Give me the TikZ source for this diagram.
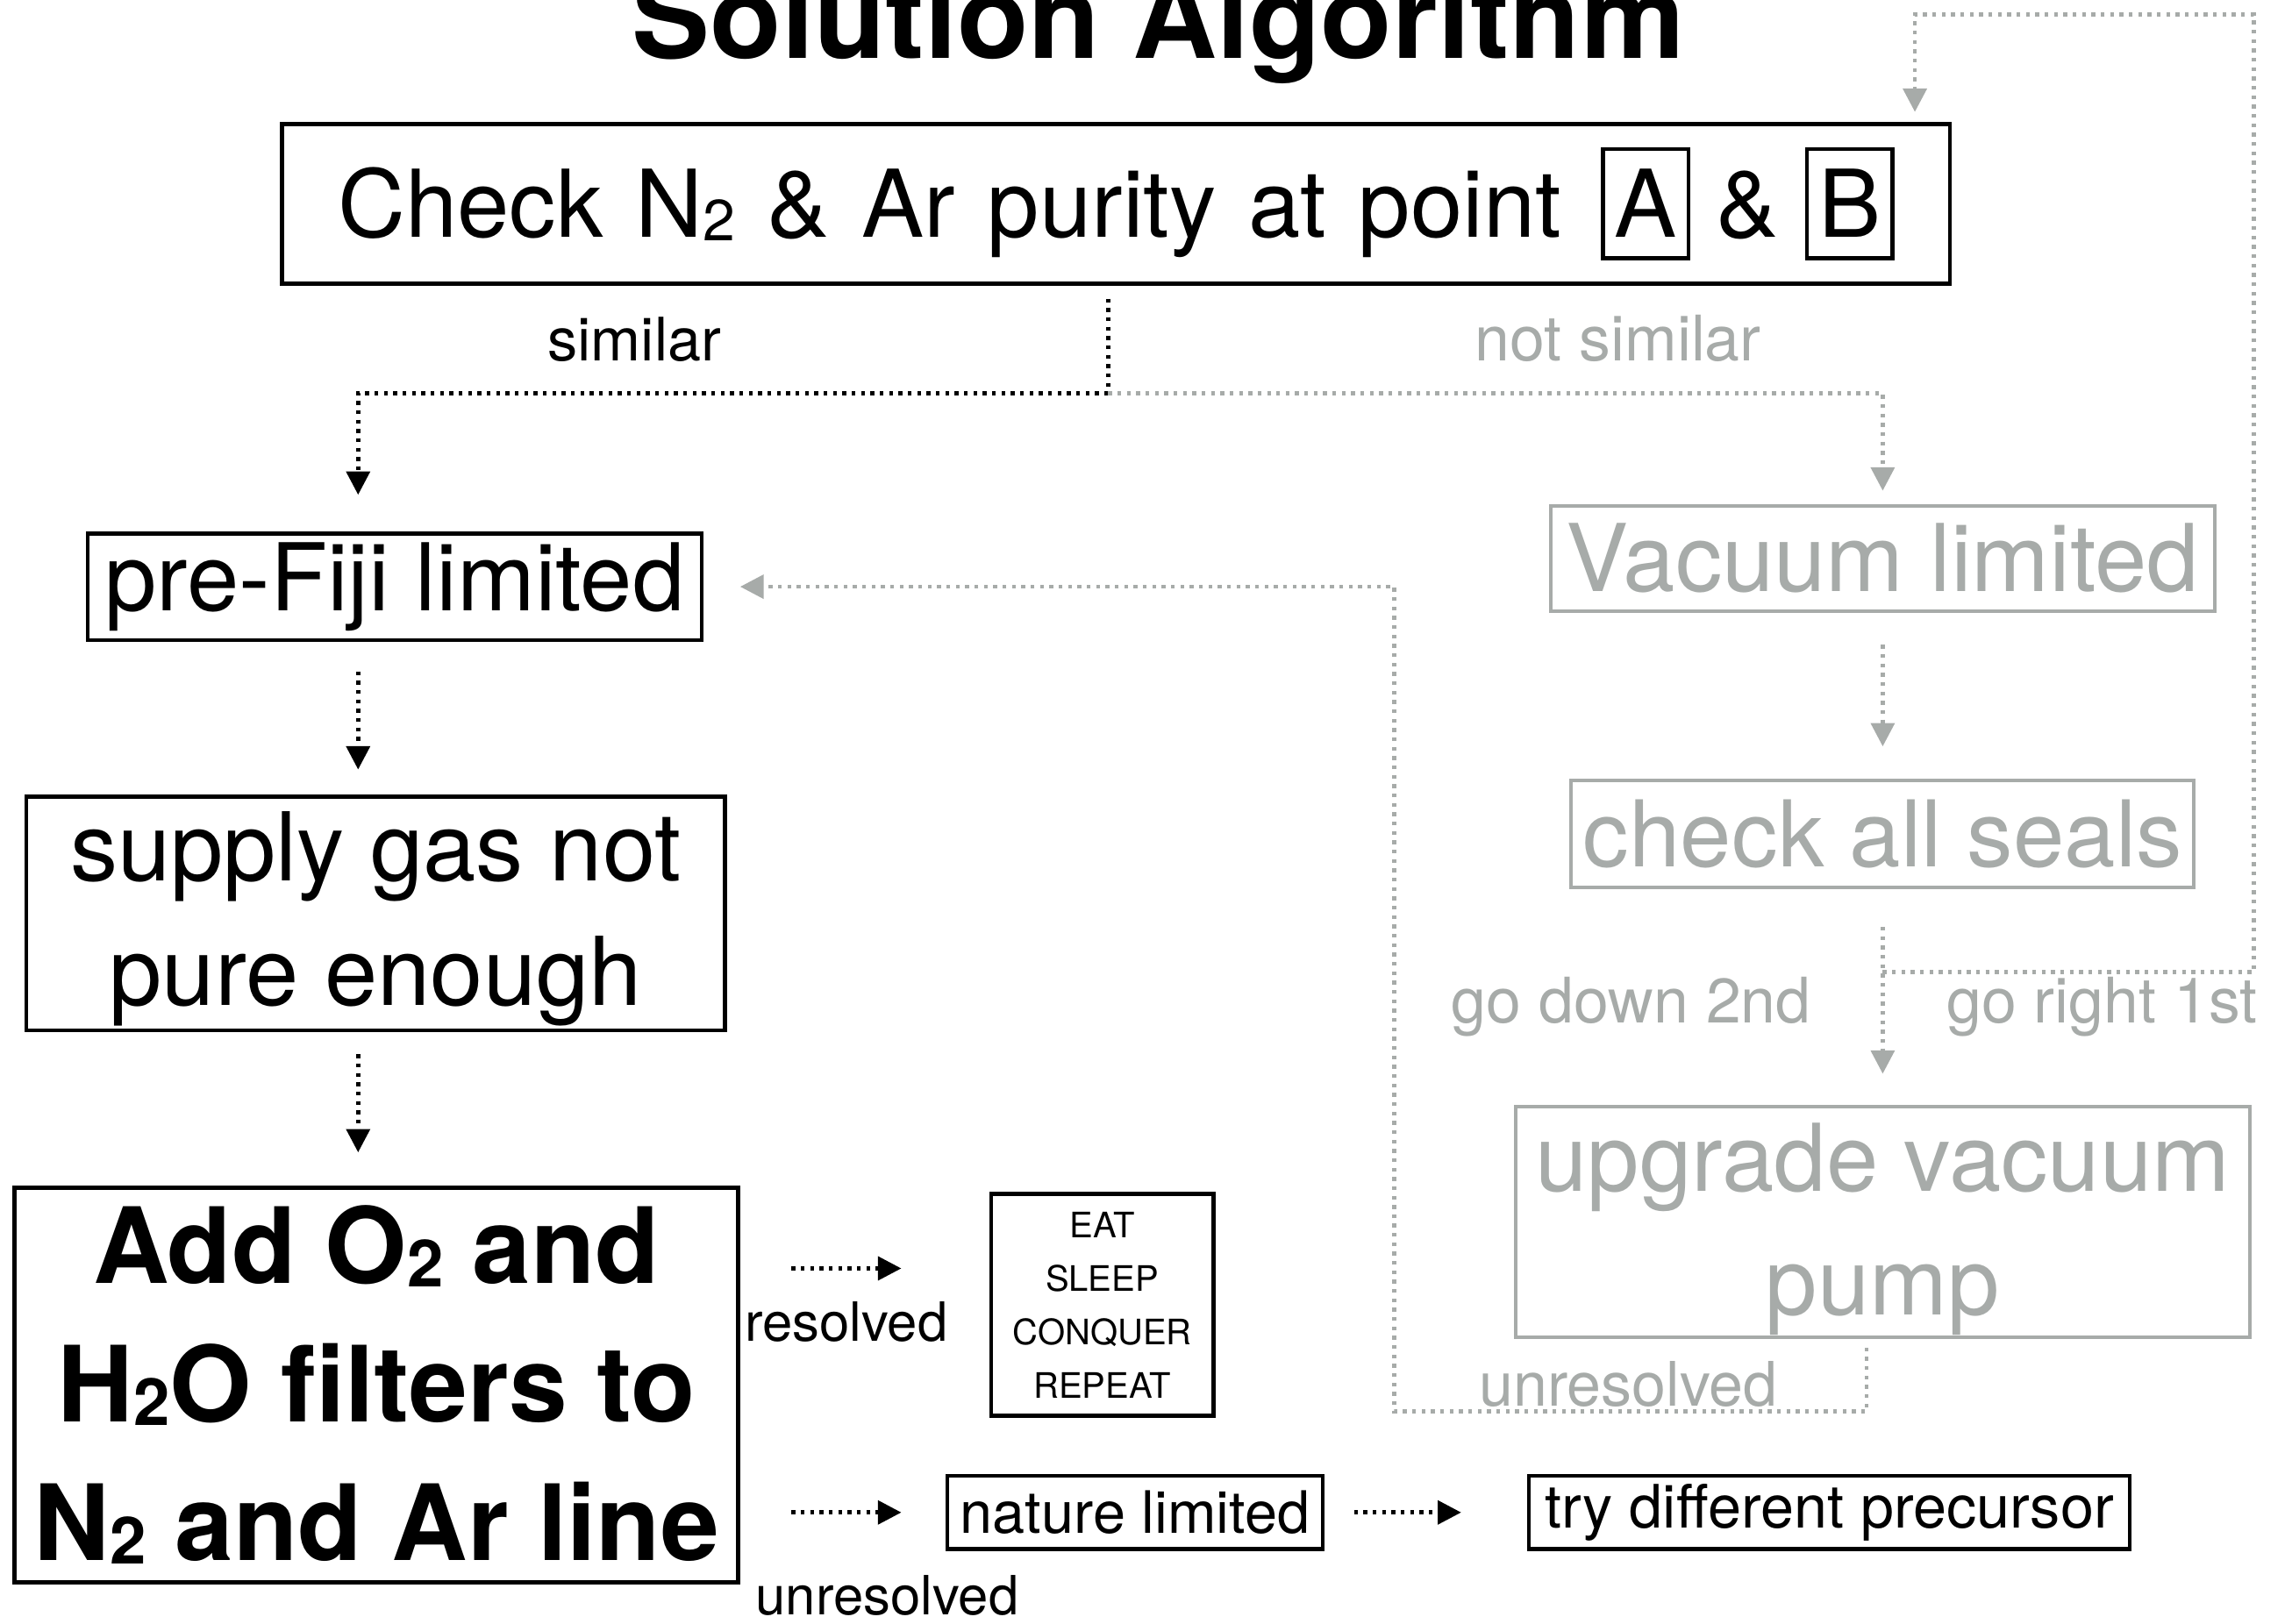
\documentclass[tikz,border=0pt]{standalone}
\usepackage{fontspec}
\usepackage{graphicx}
\setmainfont{TeX Gyre Heros}
\usetikzlibrary{arrows.meta}

\definecolor{fadegray}{RGB}{167,171,169}

\newcommand{\fsz}[2]{\fontsize{#1}{#2}\selectfont}
\newcommand{\two}{\raisebox{-0.035em}{\scalebox{0.62}{2}}}
\newcommand{\ptbox}[1]{{\setlength{\fboxsep}{0pt}\setlength{\fboxrule}{1.3pt}\fbox{\rule[-6.5pt]{0pt}{36pt}\makebox[28pt]{#1}}}}
% struts for the first and last line of a box
\newcommand{\topstrut}[1]{\rule{0pt}{#1}}
\newcommand{\botstrut}[1]{\rule[-#1]{0pt}{#1}}

\begin{document}
\begin{tikzpicture}[x=0.5pt,y=0.5pt,yscale=-1,
  stepbox/.style={draw, line width=1.4pt, inner sep=0pt, align=center},
  fadebox/.style={stepbox, draw=fadegray, text=fadegray, line width=1.2pt},
  blkdots/.style={line width=1.4pt, dash pattern=on 1.3pt off 1.9pt},
  graydots/.style={blkdots, draw=fadegray},
  tip/.style={-{Triangle[width=8pt,length=8pt]}},
  lbl/.style={anchor=base, inner sep=0pt}]
\useasboundingbox (0,0) rectangle (1568,1111);
\clip (0,0) rectangle (1568,1111);

% Title
\node[lbl, font=\fsz{40}{48}\bfseries] (title) at (792.5,40) {Solution Algorithm};

%Shape: Rectangle [check]
\node[stepbox, minimum width=570.5pt, minimum height=54.5pt, font=\fsz{32}{38}] (check) at (763.5,139.5)
  {{\spaceskip=11pt Check N\two{} \& Ar purity at point}\hspace{13.5pt}\ptbox{A} \& \ptbox{B}};
%Shape: Rectangle [left column]
\node[stepbox, minimum width=210pt, minimum height=36.5pt, font=\fsz{32}{38}] (prefiji) at (270,401.5) {pre-Fiji limited};
\node[stepbox, minimum width=239pt, minimum height=80pt, font=\fsz{32.5}{42.5}] (supply) at (257,625)
  {\topstrut{27.5pt}supply gas not\\pure enough\botstrut{7pt}};
\node[stepbox, minimum width=247.5pt, minimum height=135pt, font=\fsz{36}{47.5}\bfseries] (filters) at (257.5,948)
  {\topstrut{28pt}Add O\two{} and\\H\two{}O filters to\\N\two{} and Ar line\botstrut{3pt}};
%Shape: Rectangle [bottom row]
\node[stepbox, minimum size=76pt, font=\fsz{12}{18.3}] (eat) at (754,893) {EAT\\SLEEP\\CONQUER\\REPEAT};
\node[stepbox, minimum width=128.5pt, minimum height=25pt, font=\fsz{20}{24}] (nature) at (776.5,1035) {nature limited};
\node[stepbox, minimum width=205.5pt, minimum height=25pt, font=\fsz{20.5}{24}] (precursor) at (1251.5,1035) {try different precursor};
%Shape: Rectangle [right column, grey]
\node[fadebox, minimum width=227pt, minimum height=36pt, font=\fsz{32}{38}] (vacuum) at (1288,382) {Vacuum limited};
\node[fadebox, minimum width=213pt, minimum height=36.5pt, font=\fsz{31.5}{38}] (seals) at (1288,570.5) {check all seals};
\node[fadebox, minimum width=251pt, minimum height=79pt, font=\fsz{32}{42.5}] (pump) at (1288,836)
  {\topstrut{28.5pt}upgrade vacuum\\pump\botstrut{7pt}};

% bends of the dotted lines
\coordinate (split) at (758,269);
\coordinate (leftcol) at (245,0);
\coordinate (fork) at (1288,665);
\coordinate (loopright) at (1542,10);
\coordinate (loopback) at (1310,0);
\coordinate (retdown) at (1277,0);
\coordinate (retcorner) at (954,966);
\coordinate (okrow) at (0,868);

%Straight Lines [similar / not similar]
\draw[blkdots, shorten <=4.5pt] (check.south -| split) -- (split);
\draw[graydots, tip, shorten >=4.5pt] (split) -| (vacuum.north);
\draw[blkdots, tip, shorten >=12.5pt] (split) -| (prefiji.north -| leftcol);
%Straight Lines [vacuum branch]
\draw[graydots, tip, shorten <=11pt, shorten >=11pt] (vacuum.south) -- (seals.north);
\draw[graydots, tip, shorten <=13pt, shorten >=10.5pt] (seals.south) -- (pump.north);
\draw[graydots, tip, shorten >=3.5pt] (fork) -| (loopright) -| (check.north -| loopback);
\draw[graydots, tip, shorten <=3pt, shorten >=12.5pt] (pump.south -| retdown) |- (retcorner) |- (prefiji.east);
%Straight Lines [left column]
\draw[blkdots, tip, shorten <=10pt, shorten >=8.5pt] (prefiji.south -| leftcol) -- (supply.north -| leftcol);
\draw[blkdots, tip, shorten <=7.5pt, shorten >=11.5pt] (supply.south -| leftcol) -- (filters.north -| leftcol);
\draw[blkdots, tip, shorten <=17.5pt, shorten >=30pt] (filters.east |- okrow) -- (eat.west |- okrow);
\draw[blkdots, tip, shorten <=17.5pt, shorten >=15pt] (filters.east |- nature.west) -- (nature.west);
\draw[blkdots, tip, shorten <=10pt, shorten >=22.5pt] (nature.east) -- (precursor.west);

% Text Node
\node[lbl, font=\fsz{20.5}{24}] (similar) at (434,247) {similar};
\node[lbl, font=\fsz{21.5}{24}, text=fadegray] (notsimilar) at (1107,247) {not similar};
\node[lbl, font=\fsz{21.5}{24}, text=fadegray] (godown) at (1116,700) {go down 2nd};
\node[lbl, font=\fsz{21.5}{24}, text=fadegray] (goright) at (1438,700) {go right 1st};
\node[lbl, font=\fsz{21}{24}, text=fadegray] (unresgray) at (1114,962) {unresolved};
\node[lbl, font=\fsz{18.5}{22}] (resolved) at (579,918) {resolved};
\node[lbl, font=\fsz{18.5}{22}] (unresolved) at (607,1105) {unresolved};

\end{tikzpicture}
\end{document}
